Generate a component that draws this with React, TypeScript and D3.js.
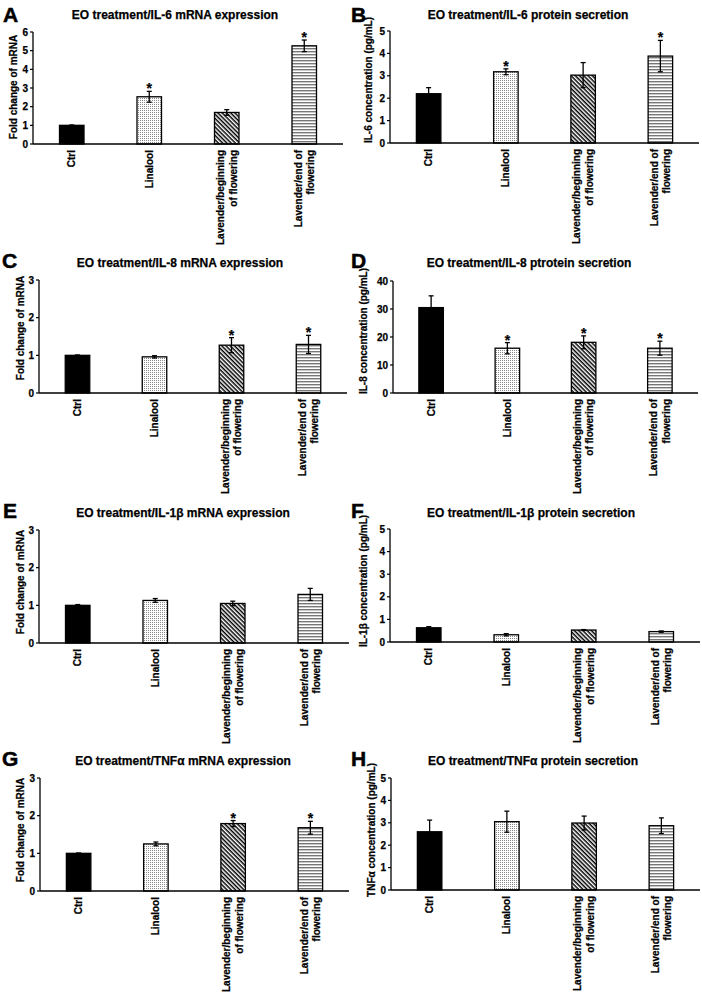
import React from "react";
import * as d3 from "d3";

// ---------- data ----------
const categoryLines: string[][] = [
  ["Ctrl"],
  ["Linalool"],
  ["Lavender/beginning", "of flowering"],
  ["Lavender/end of", "flowering"],
];
const categories = ["Ctrl", "Linalool", "Lavender/beginning of flowering", "Lavender/end of flowering"];

const panelLetters = ["A", "B", "C", "D", "E", "F", "G", "H"];
const panelTitles = [
  "EO treatment/IL-6 mRNA expression",
  "EO treatment/IL-6 protein secretion",
  "EO treatment/IL-8 mRNA expression",
  "EO treatment/IL-8 ptrotein secretion",
  "EO treatment/IL-1β mRNA expression",
  "EO treatment/IL-1β protein secretion",
  "EO treatment/TNFα mRNA expression",
  "EO treatment/TNFα protein secretion",
];
const yLabels = [
  "Fold change of mRNA",
  "IL-6 concentration (pg/mL)",
  "Fold change of mRNA",
  "IL-8 concentration (pg/mL)",
  "Fold change of mRNA",
  "IL-1β concentration (pg/mL)",
  "Fold change of mRNA",
  "TNFα concentration (pg/mL)",
];
const yTicksA = [0, 1, 2, 3, 4, 5, 6];
const yTicks5 = [0, 1, 2, 3, 4, 5];
const yTicks3 = [0, 1, 2, 3];
const yTicksD = [0, 10, 20, 30, 40];
const panelTicks = [yTicksA, yTicks5, yTicks3, yTicksD, yTicks3, yTicks5, yTicks3, yTicks5];

const il6mRNA = [1.0, 2.53, 1.69, 5.26];
const il6mRNAErr = [0.02, 0.29, 0.15, 0.31];
const il6mRNASig = [false, true, false, true];
const il6Prot = [2.2, 3.18, 3.03, 3.88];
const il6ProtErr = [0.27, 0.13, 0.56, 0.7];
const il6ProtSig = [false, true, false, true];
const il8mRNA = [1.0, 0.96, 1.27, 1.29];
const il8mRNAErr = [0.01, 0.03, 0.2, 0.24];
const il8mRNASig = [false, false, true, true];
const il8Prot = [30.5, 16.0, 18.1, 16.0];
const il8ProtErr = [4.2, 2.0, 2.3, 2.5];
const il8ProtSig = [false, true, true, true];
const il1bmRNA = [1.0, 1.13, 1.05, 1.29];
const il1bmRNAErr = [0.02, 0.05, 0.06, 0.16];
const il1bmRNASig = [false, false, false, false];
const il1bProt = [0.63, 0.32, 0.53, 0.46];
const il1bProtErr = [0.05, 0.05, 0.02, 0.03];
const il1bProtSig = [false, false, false, false];
const tnfmRNA = [1.0, 1.25, 1.79, 1.68];
const tnfmRNAErr = [0.01, 0.05, 0.08, 0.17];
const tnfmRNASig = [false, false, true, true];
const tnfProt = [2.6, 3.05, 2.99, 2.87];
const tnfProtErr = [0.52, 0.47, 0.31, 0.35];
const tnfProtSig = [false, false, false, false];

const panelValues = [il6mRNA, il6Prot, il8mRNA, il8Prot, il1bmRNA, il1bProt, tnfmRNA, tnfProt];
const panelErrors = [il6mRNAErr, il6ProtErr, il8mRNAErr, il8ProtErr, il1bmRNAErr, il1bProtErr, tnfmRNAErr, tnfProtErr];
const panelSig = [il6mRNASig, il6ProtSig, il8mRNASig, il8ProtSig, il1bmRNASig, il1bProtSig, tnfmRNASig, tnfProtSig];

// ---------- layout ----------
const layouts = [
  { x0: 33, x1: 343, yTop: 32, yBot: 144, tx: 175, ty: 15, lx: 3, ly: 22, ylx: 13, yly: 87 },
  { x0: 390, x1: 699, yTop: 31, yBot: 143, tx: 528, ty: 15, lx: 351, ly: 22, ylx: 368, yly: 80 },
  { x0: 39, x1: 347, yTop: 280, yBot: 393, tx: 180, ty: 263, lx: 2, ly: 268, ylx: 20, yly: 328 },
  { x0: 393, x1: 698, yTop: 281, yBot: 393, tx: 529, ty: 263, lx: 351, ly: 268, ylx: 363, yly: 331 },
  { x0: 39, x1: 349, yTop: 530, yBot: 643, tx: 183, ty: 513, lx: 3, ly: 518, ylx: 20, yly: 582 },
  { x0: 390, x1: 700, yTop: 529, yBot: 642, tx: 531, ty: 513, lx: 351, ly: 518, ylx: 363, yly: 581 },
  { x0: 40, x1: 349, yTop: 778, yBot: 891, tx: 183, ty: 761, lx: 2, ly: 766, ylx: 20, yly: 830 },
  { x0: 391, x1: 700, yTop: 778, yBot: 890, tx: 533, ty: 761, lx: 351, ly: 766, ylx: 371, yly: 830 },
];

const FONT = "'Liberation Sans', Arial, Helvetica, sans-serif";
const fills = ["#000", "url(#dots)", "url(#diag)", "url(#hstripes)"];
const TS = { stroke: "#000", strokeWidth: 0.25 };

function Panel({ i }: { i: number }) {
  const L = layouts[i];
  const ticks = panelTicks[i];
  const yMax = ticks[ticks.length - 1];
  const y = d3.scaleLinear().domain([0, yMax]).range([L.yBot, L.yTop]);
  const x = d3.scaleBand<string>().domain(categories).range([L.x0, L.x1]).paddingInner(0).paddingOuter(0);
  const bw = 24.5;
  const vals = panelValues[i];
  const errs = panelErrors[i];
  const sig = panelSig[i];
  return (
    <g fontFamily={FONT} fontWeight="bold">
      <text x={L.lx} y={L.ly} fontSize={21} {...TS} strokeWidth={0.5}>{panelLetters[i]}</text>
      <text x={L.tx} y={L.ty} fontSize={12} textAnchor="middle" dominantBaseline="central" {...TS}>{panelTitles[i]}</text>
      <text transform={`translate(${L.ylx},${L.yly}) rotate(-90)`} fontSize={10} textAnchor="middle" dominantBaseline="central" {...TS}>
        {yLabels[i]}
      </text>
      {ticks.map((t) => (
        <g key={t}>
          <line x1={L.x0 - 3} x2={L.x0} y1={y(t)} y2={y(t)} stroke="#000" strokeWidth={1.2} />
          <text x={L.x0 - 5} y={y(t)} fontSize={10} textAnchor="end" dominantBaseline="central" {...TS}>{t}</text>
        </g>
      ))}
      {categories.map((c, k) => {
        const cx = (x(c) as number) + x.bandwidth() / 2;
        const v = vals[k];
        const e = errs[k];
        return (
          <g key={c}>
            <rect x={cx - bw / 2} y={y(v)} width={bw} height={L.yBot - y(v)} fill={fills[k]} stroke="#000" strokeWidth={1.3} />
            <line x1={cx} x2={cx} y1={y(v + e)} y2={y(Math.max(0, v - e))} stroke="#000" strokeWidth={1.3} />
            <line x1={cx - 2.5} x2={cx + 2.5} y1={y(v + e)} y2={y(v + e)} stroke="#000" strokeWidth={1.3} />
            <line x1={cx - 2.5} x2={cx + 2.5} y1={y(Math.max(0, v - e))} y2={y(Math.max(0, v - e))} stroke="#000" strokeWidth={1.3} />
            {sig[k] && (
              <text x={cx} y={y(v + e) + 2} fontSize={14} textAnchor="middle" {...TS}>*</text>
            )}
            <g transform={`translate(${cx},${L.yBot + 6}) rotate(-90)`}>
              {categoryLines[k].map((ln, j) => {
                const n = categoryLines[k].length;
                const off = (j - (n - 1) / 2) * 12.5;
                return (
                  <text key={j} x={0} y={off} fontSize={10} textAnchor="end" dominantBaseline="central" {...TS}>{ln}</text>
                );
              })}
            </g>
          </g>
        );
      })}
      <line x1={L.x0} x2={L.x0} y1={L.yTop} y2={L.yBot} stroke="#000" strokeWidth={1.3} />
      <line x1={L.x0} x2={L.x1} y1={L.yBot} y2={L.yBot} stroke="#000" strokeWidth={1.3} />
    </g>
  );
}

export default function App() {
  return (
    <svg width={702} height={992} style={{ position: "absolute", left: 0, top: 0, background: "#fff" }}>
      <defs>
        <pattern id="dots" patternUnits="userSpaceOnUse" width={2} height={2}>
          <rect width={2} height={2} fill="#fff" />
          <rect x={0} y={0} width={1} height={1} fill="#8a8a8a" />
        </pattern>
        <pattern id="diag" patternUnits="userSpaceOnUse" width={3} height={3} patternTransform="rotate(45)">
          <rect width={3} height={3} fill="#fff" />
          <rect x={0} y={0} width={3} height={1.5} fill="#000" />
        </pattern>
        <pattern id="hstripes" patternUnits="userSpaceOnUse" width={4} height={3}>
          <rect width={4} height={3} fill="#fff" />
          <rect x={0} y={0} width={4} height={1.4} fill="#777" />
        </pattern>
      </defs>
      <rect width={702} height={992} fill="#fff" />
      {layouts.map((_, i) => (
        <Panel key={i} i={i} />
      ))}
    </svg>
  );
}
